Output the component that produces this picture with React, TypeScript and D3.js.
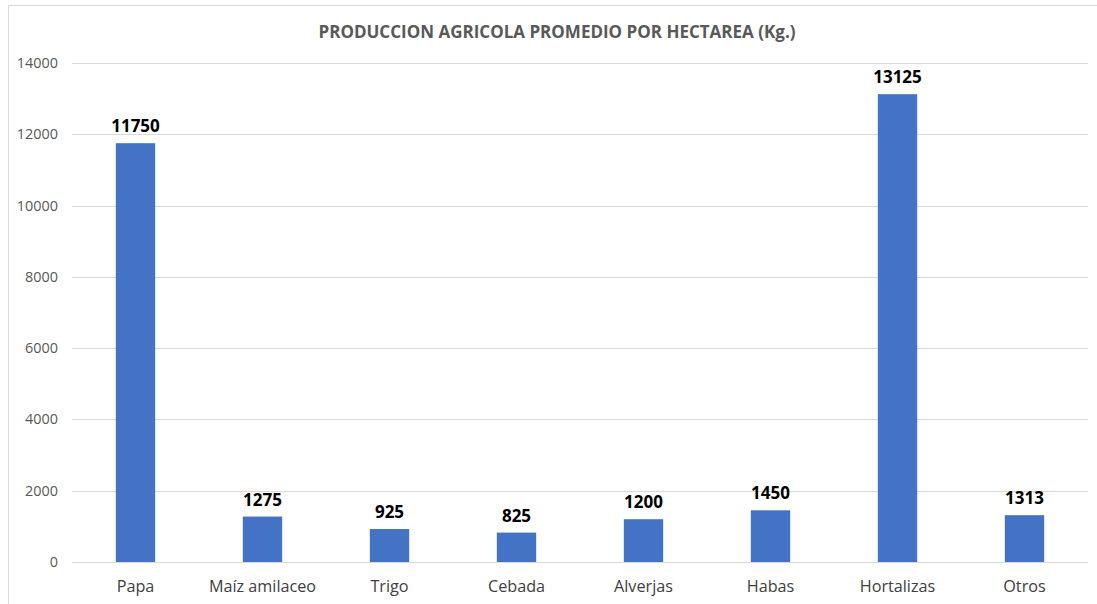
import React from "react";
import * as d3 from "d3";

const categories = ["Papa", "Maíz amilaceo", "Trigo", "Cebada", "Alverjas", "Habas", "Hortalizas", "Otros"];
const values = [11750, 1275, 925, 825, 1200, 1450, 13125, 1313];
const yTicks = [0, 2000, 4000, 6000, 8000, 10000, 12000, 14000];
const title = "PRODUCCION AGRICOLA PROMEDIO POR HECTAREA (Kg.)";

const W = 1097;
const H = 604;
const margin = { left: 72, right: 9, top: 63, bottom: 42 };
const FONT = "'Open Sans', sans-serif";

export default function App() {
  const x = d3
    .scaleBand<string>()
    .domain(categories)
    .range([margin.left, W - margin.right])
    .paddingInner(0.69)
    .paddingOuter(0.345);
  const y = d3.scaleLinear().domain([0, 14000]).range([H - margin.bottom, margin.top]);
  const bw = x.bandwidth();

  return (
    <svg
      width={W}
      height={H}
      style={{ position: "absolute", left: 0, top: 0, background: "#fff" }}
      fontFamily={FONT}
    >
      <rect x={8.5} y={5.5} width={W + 10} height={H + 10} fill="#fff" stroke="#d9d9d9" />
      <text x={557} y={38} textAnchor="middle" fontSize={17} fontWeight="bold" fill="#595959">
        {title}
      </text>
      {yTicks.map((t) => (
        <g key={t}>
          <line
            x1={margin.left}
            x2={W - margin.right}
            y1={Math.round(y(t)) + 0.5}
            y2={Math.round(y(t)) + 0.5}
            stroke="#d9d9d9"
            strokeWidth={1}
          />
          <text x={58} y={y(t) + 5} textAnchor="end" fontSize={14.4} fill="#595959">
            {t}
          </text>
        </g>
      ))}
      {categories.map((c, i) => (
        <g key={c}>
          <rect x={x(c)} y={y(values[i])} width={bw} height={y(0) - y(values[i])} fill="#4472c4" />
          <text
            x={(x(c) as number) + bw / 2}
            y={y(values[i]) - 11}
            textAnchor="middle"
            fontSize={17}
            fontWeight="bold"
            fill="#000"
          >
            {values[i]}
          </text>
          <text x={(x(c) as number) + bw / 2} y={592} textAnchor="middle" fontSize={16.2} fill="#404040">
            {c}
          </text>
        </g>
      ))}
    </svg>
  );
}
